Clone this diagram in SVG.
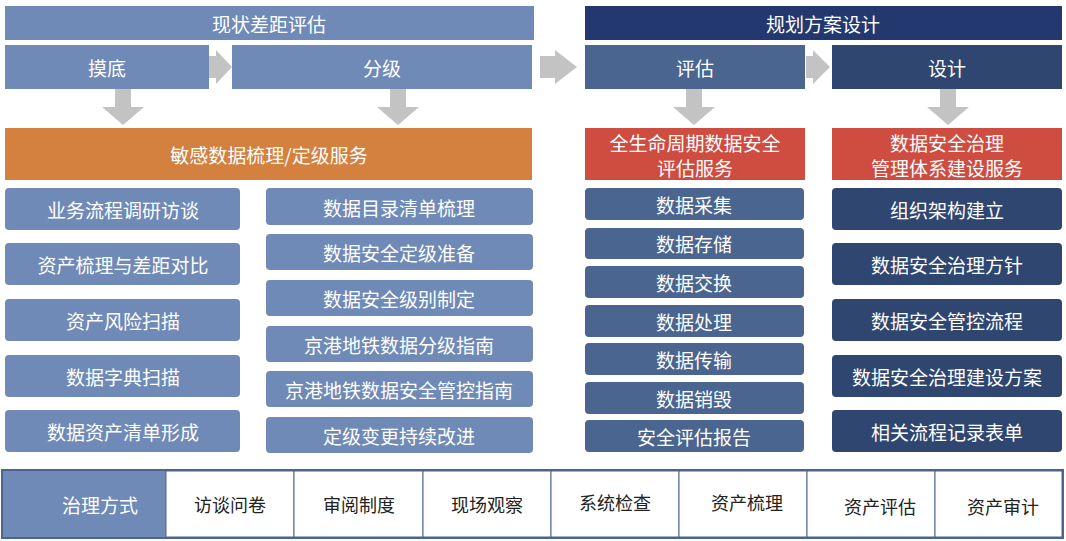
<svg xmlns="http://www.w3.org/2000/svg" width="1066" height="541" viewBox="0 0 1066 541">
<style>
text{font-family:"Noto Sans CJK SC","Noto Sans",sans-serif;text-anchor:middle;dominant-baseline:central;fill:#fff;font-size:19px}
.a{fill:#6f8ab7}.b{fill:#4a6590}.c{fill:#2f4670}.h{fill:#22386f}.o{fill:#d4803f}.r{fill:#cf4c41}
.ar{fill:#c3c3c4}
.cell{fill:#fff;stroke:#4a6590;stroke-width:1}
.t text{fill:#222;font-size:18px}
</style>
<rect width="1066" height="541" fill="#fff"/>
<g id="h1"><rect class="a" x="5" y="6" width="529" height="34"/><text x="269" y="23">现状差距评估</text></g>
<g id="h2"><rect class="h" x="585" y="6" width="477" height="34"/><text x="823" y="23">规划方案设计</text></g>
<g id="s1"><rect class="a" x="5" y="45" width="204" height="44"/><text x="107" y="67" font-size="20">摸底</text></g>
<g id="s2"><rect class="a" x="232" y="45" width="300" height="44"/><text x="382" y="67" font-size="20">分级</text></g>
<g id="s3"><rect class="b" x="585" y="45" width="220" height="44"/><text x="695" y="67" font-size="20">评估</text></g>
<g id="s4"><rect class="c" x="832" y="45" width="230" height="44"/><text x="947" y="67" font-size="20">设计</text></g>
<g id="connectors">
<polygon class="ar" points="209,56 216,56 216,50 232,67 216,84 216,78 209,78"/>
<polygon class="ar" points="540,56 555,56 555,50 577,67 555,84 555,78 540,78"/>
<polygon class="ar" points="806,56 813,56 813,50 830,67 813,84 813,78 806,78"/>
<polygon class="ar" points="115,89 131,89 131,107 144,107 123,125 102,107 115,107"/>
<polygon class="ar" points="390,89 406,89 406,107 419,107 398,125 377,107 390,107"/>
<polygon class="ar" points="686,89 702,89 702,107 715,107 694,125 673,107 686,107"/>
<polygon class="ar" points="940,89 956,89 956,107 969,107 948,125 927,107 940,107"/>
</g>
<g id="svc1"><rect class="o" x="5" y="128" width="527" height="52"/><text x="269" y="154">敏感数据梳理/定级服务</text></g>
<g id="svc2"><rect class="r" x="585" y="128" width="220" height="52"/><text x="695" y="142">全生命周期数据安全</text><text x="695" y="167">评估服务</text></g>
<g id="svc3"><rect class="r" x="832" y="128" width="230" height="52"/><text x="947" y="142">数据安全治理</text><text x="947" y="167">管理体系建设服务</text></g>
<g id="c1">
<g id="c1a"><rect class="a" x="5" y="188" width="235" height="42" rx="4"/><text x="123" y="209">业务流程调研访谈</text></g>
<g id="c1b"><rect class="a" x="5" y="243" width="235" height="42" rx="4"/><text x="123" y="264">资产梳理与差距对比</text></g>
<g id="c1c"><rect class="a" x="5" y="299" width="235" height="42" rx="4"/><text x="123" y="320">资产风险扫描</text></g>
<g id="c1d"><rect class="a" x="5" y="355" width="235" height="42" rx="4"/><text x="123" y="376">数据字典扫描</text></g>
<g id="c1e"><rect class="a" x="5" y="410" width="235" height="42" rx="4"/><text x="123" y="431">数据资产清单形成</text></g>
</g>
<g id="c2">
<g id="c2a"><rect class="a" x="266" y="188" width="267" height="37" rx="4"/><text x="399" y="207">数据目录清单梳理</text></g>
<g id="c2b"><rect class="a" x="266" y="234" width="267" height="36" rx="4"/><text x="399" y="252">数据安全定级准备</text></g>
<g id="c2c"><rect class="a" x="266" y="280" width="267" height="36" rx="4"/><text x="399" y="298">数据安全级别制定</text></g>
<g id="c2d"><rect class="a" x="266" y="326" width="267" height="36" rx="4"/><text x="399" y="344">京港地铁数据分级指南</text></g>
<g id="c2e"><rect class="a" x="266" y="371" width="267" height="36" rx="4"/><text x="399" y="389">京港地铁数据安全管控指南</text></g>
<g id="c2f"><rect class="a" x="266" y="417" width="267" height="36" rx="4"/><text x="399" y="435">定级变更持续改进</text></g>
</g>
<g id="c3">
<g id="c3a"><rect class="b" x="585" y="188" width="219" height="32" rx="4"/><text x="694" y="204">数据采集</text></g>
<g id="c3b"><rect class="b" x="585" y="228" width="219" height="31" rx="4"/><text x="694" y="243">数据存储</text></g>
<g id="c3c"><rect class="b" x="585" y="266" width="219" height="32" rx="4"/><text x="694" y="282">数据交换</text></g>
<g id="c3d"><rect class="b" x="585" y="305" width="219" height="32" rx="4"/><text x="694" y="321">数据处理</text></g>
<g id="c3e"><rect class="b" x="585" y="343" width="219" height="32" rx="4"/><text x="694" y="359">数据传输</text></g>
<g id="c3f"><rect class="b" x="585" y="382" width="219" height="32" rx="4"/><text x="694" y="398">数据销毁</text></g>
<g id="c3g"><rect class="b" x="585" y="420" width="219" height="32" rx="4"/><text x="694" y="436">安全评估报告</text></g>
</g>
<g id="c4">
<g id="c4a"><rect class="c" x="832" y="188" width="230" height="42" rx="4"/><text x="947" y="209">组织架构建立</text></g>
<g id="c4b"><rect class="c" x="832" y="243" width="230" height="42" rx="4"/><text x="947" y="264">数据安全治理方针</text></g>
<g id="c4c"><rect class="c" x="832" y="299" width="230" height="42" rx="4"/><text x="947" y="320">数据安全管控流程</text></g>
<g id="c4d"><rect class="c" x="832" y="355" width="230" height="42" rx="4"/><text x="947" y="376">数据安全治理建设方案</text></g>
<g id="c4e"><rect class="c" x="832" y="410" width="230" height="42" rx="4"/><text x="947" y="431">相关流程记录表单</text></g>
</g>
<g id="table">
<rect x="2" y="470" width="1061" height="68" fill="#fff" stroke="#4a6590" stroke-width="2"/>
<rect class="a" x="3" y="471" width="163" height="66"/>
<text x="100" y="504" font-size="21">治理方式</text>
<g class="t">
<rect class="cell" x="166" y="471" width="128" height="66"/><text x="230" y="504">访谈问卷</text>
<rect class="cell" x="294" y="471" width="129" height="66"/><text x="359" y="504">审阅制度</text>
<rect class="cell" x="423" y="471" width="128" height="66"/><text x="487" y="504">现场观察</text>
<rect class="cell" x="551" y="471" width="128" height="66"/><text x="615" y="502">系统检查</text>
<rect class="cell" x="679" y="471" width="128" height="66"/><text x="747" y="502">资产梳理</text>
<rect class="cell" x="807" y="471" width="128" height="66"/><text x="880" y="506">资产评估</text>
<rect class="cell" x="935" y="471" width="127" height="66"/><text x="1003" y="506">资产审计</text>
</g>
</g>
</svg>
